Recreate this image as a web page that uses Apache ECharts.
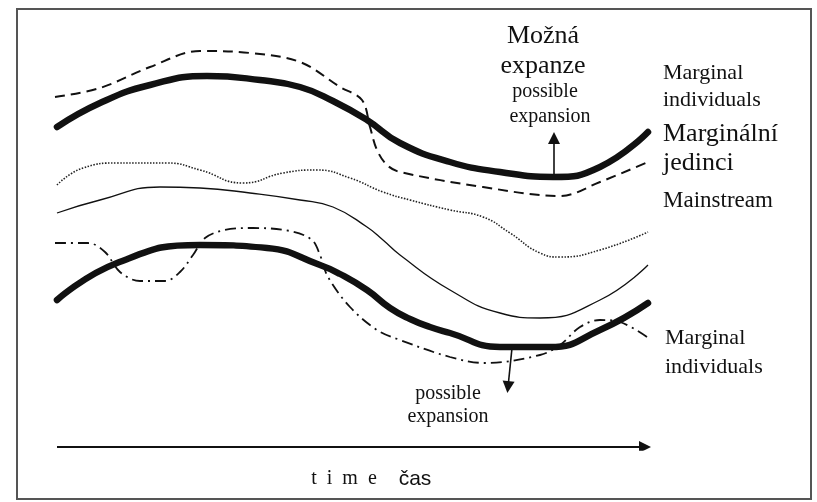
<!DOCTYPE html>
<html>
<head>
<meta charset="utf-8">
<script src="https://cdn.jsdelivr.net/npm/echarts@6/dist/echarts.min.js"></script>
<style>
  html, body { margin: 0; padding: 0; background: #fff; }
  #chart { width: 817px; height: 502px; }
</style>
</head>
<body>
<div id="chart"></div>
<script>
// curves: [time, position] (arbitrary units)
const upperThick = [[2,323],[45,347],[95,365],[152,374],[205,370],[245,363],[278,349],[312,330],[345,307],[395,288],[445,278],[498,273],[545,283],[593,318]];
const upperDashed = [[0,353],[45,362],[95,383],[145,399],[195,397],[245,388],[285,363],[307,350],[315,323],[322,300],[332,285],[345,278],[428,263],[505,254],[545,268],[593,288]];
const dottedLine = [[2,265],[28,282],[62,287],[112,287],[145,280],[188,267],[228,277],[262,280],[295,272],[328,258],[355,250],[395,240],[428,233],[455,217],[485,197],[505,193],[545,200],[593,218]];
const mainstream = [[2,237],[45,250],[105,263],[145,262],[195,257],[245,250],[278,243],[312,223],[328,210],[345,195],[395,160],[445,137],[485,132],[545,150],[593,185]];
const lowerThick = [[2,150],[62,187],[145,205],[212,202],[265,185],[285,176],[312,160],[335,142],[355,131],[375,123],[395,117],[445,103],[495,103],[545,120],[593,147]];
const lowerDashDot = [[0,207],[33,207],[50,198],[65,178],[85,169],[110,169],[125,178],[138,195],[150,212],[170,220],[198,222],[235,219],[257,210],[265,195],[273,173],[295,143],[322,120],[345,110],[395,93],[430,87],[485,95],[505,105],[525,123],[545,130],[565,128],[592,113]];

// arrows: [from, to]
const arrows = [
  { coords: [[499,273],[499,312]], width: 1.6 },
  { coords: [[457,102],[453,63]], width: 1.6 },
  { coords: [[2,3],[590,3]], width: 2.2 }
];

const ink = '#111';
const serif = '"Liberation Serif", "DejaVu Serif", serif';

function txt(text, x, y, size, align, family) {
  return {
    type: 'text',
    x: x, y: y,
    style: {
      text: text,
      font: size + 'px ' + (family || serif),
      fill: ink,
      align: align || 'left',
      verticalAlign: 'middle',
      textAlign: align || 'left',
      textVerticalAlign: 'middle'
    }
  };
}

const chart = echarts.init(document.getElementById('chart'));

const option = {
  backgroundColor: '#fff',
  animation: false,
  grid: { left: 55, right: 162, top: 50, bottom: 52 },
  xAxis: { type: 'value', min: 0, max: 600, show: false },
  yAxis: { type: 'value', min: 0, max: 400, show: false },
  series: [
    {
      type: 'line', data: upperThick, smooth: true, symbol: 'none',
      lineStyle: { color: ink, width: 6.5, cap: 'round' }
    },
    {
      type: 'line', data: upperDashed, smooth: 0.35, symbol: 'none',
      lineStyle: { color: ink, width: 2, type: [10, 6] }
    },
    {
      type: 'line', data: dottedLine, smooth: true, symbol: 'none',
      lineStyle: { color: '#222', width: 1.6, type: [1.5, 1.5] }
    },
    {
      type: 'line', data: mainstream, smooth: true, symbol: 'none',
      lineStyle: { color: ink, width: 1.3 }
    },
    {
      type: 'line', data: lowerThick, smooth: true, symbol: 'none',
      lineStyle: { color: ink, width: 6.5, cap: 'round' }
    },
    {
      type: 'line', data: lowerDashDot, smooth: 0.35, symbol: 'none',
      lineStyle: { color: ink, width: 1.8, type: [11, 5, 2, 5] }
    },
    {
      type: 'lines',
      coordinateSystem: 'cartesian2d',
      symbol: ['none', 'triangle'],
      symbolSize: 12,
      silent: true,
      itemStyle: { color: ink },
      lineStyle: { color: ink, width: 1.6, opacity: 1 },
      data: arrows.map(a => ({ coords: a.coords, lineStyle: { width: a.width } }))
    }
  ],
  graphic: [
    {
      type: 'rect',
      shape: { x: 17, y: 9, width: 794, height: 490 },
      style: { fill: 'none', stroke: '#555', lineWidth: 2 }
    },
    txt('Možná', 543, 36, 26, 'center'),
    txt('expanze', 543, 66, 26, 'center'),
    txt('possible', 545, 92, 20, 'center'),
    txt('expansion', 550, 117, 20, 'center'),
    txt('Marginal', 663, 73, 22),
    txt('individuals', 663, 100, 22),
    txt('Marginální', 663, 134, 26),
    txt('jedinci', 663, 163, 26),
    txt('Mainstream', 663, 201, 23),
    txt('Marginal', 665, 338, 22),
    txt('individuals', 665, 367, 22),
    txt('possible', 448, 394, 20, 'center'),
    txt('expansion', 448, 417, 20, 'center'),
    txt('t  i  m  e', 344, 479, 20, 'center'),
    txt('čas', 415, 479, 21, 'center', '"Liberation Sans", Arial, sans-serif')
  ]
};

chart.setOption(option);
</script>
</body>
</html>
